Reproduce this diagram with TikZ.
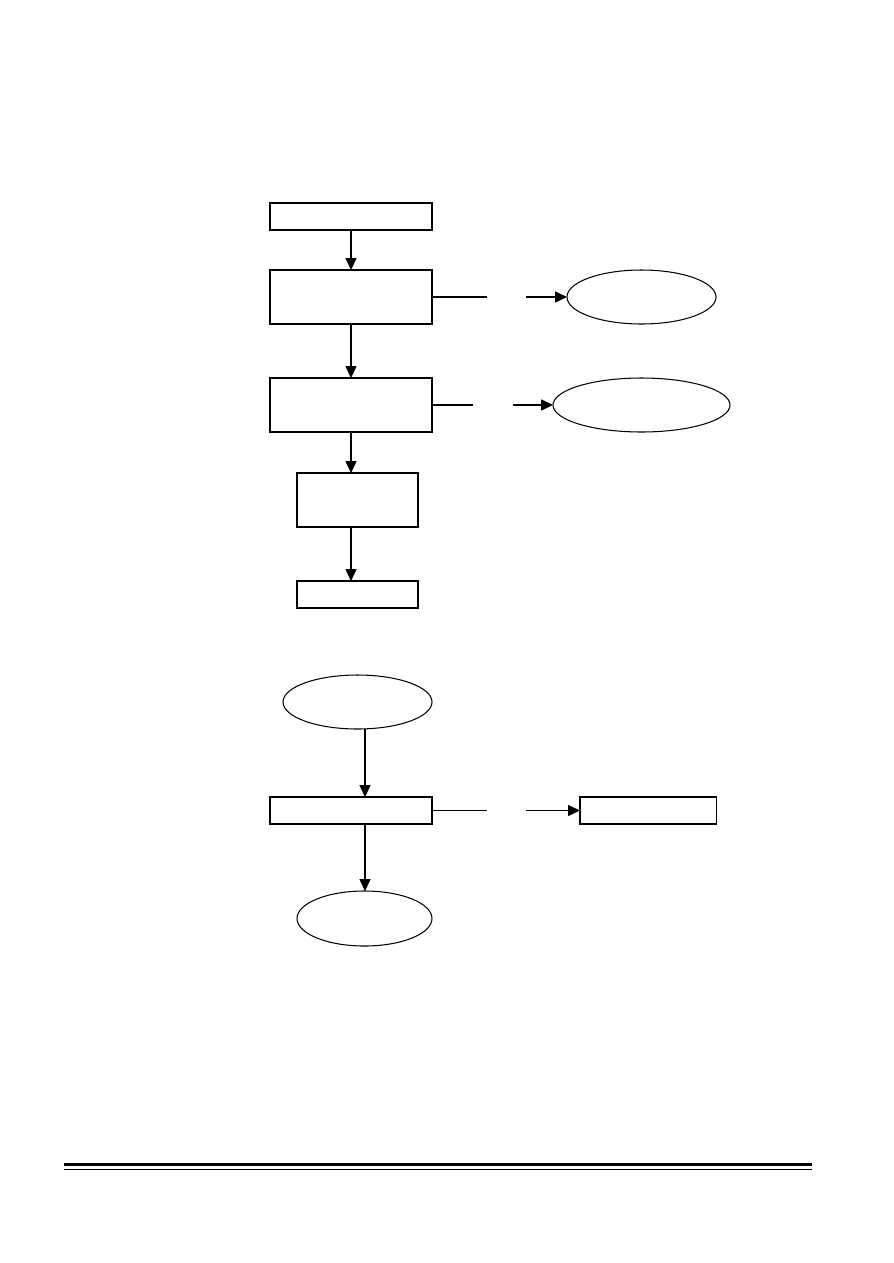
\documentclass[tikz,border=0pt]{standalone}
\usepackage{tikz}
\usetikzlibrary{arrows.meta,shapes.geometric}

\begin{document}
\begin{tikzpicture}[
    >={Triangle[length=2.8mm,width=2.6mm]},
    x=0.2352mm, y=-0.2352mm,
    line width=0.7pt,
    pbox/.style={draw,rectangle,minimum width=38.1mm,minimum height=12.7mm,
                 inner sep=0pt,outer sep=0pt},
    sbox/.style={pbox,minimum height=6.35mm},
    nbox/.style={pbox,minimum width=28.46mm},
    oval/.style={draw,ellipse,minimum width=35.05mm,minimum height=12.7mm,
                 inner sep=0pt,outer sep=0pt},
    flow/.style={->},
  ]
  \useasboundingbox (0,0) rectangle (893,1263);

  % --- upper chain ---
  \node[sbox] (b1) at (351,216.5) {};
  \node[pbox] (b2) at (351,297)   {};
  \node[pbox] (b3) at (351,405)   {};
  \node[nbox] (b4) at (357.5,500) {};
  \node[nbox,minimum height=6.35mm] (b5) at (357.5,594.5) {};

  % --- side ovals ---
  \node[oval] (e1) at (641.5,297) {};
  \node[oval,minimum width=41.63mm] (e2) at (641.5,405) {};

  % --- lower chain ---
  \node[oval] (e3) at (357.5,702) {};
  \node[sbox] (b6) at (351,810.5) {};
  \node[sbox,minimum width=32mm] (b7) at (648,810.5) {};
  \node[oval,minimum width=31.75mm,minimum height=12.94mm] (e4) at (364.5,918.5) {};

  % gap points on the side connectors
  \coordinate (g1a) at (487,297);
  \coordinate (g1b) at (526,297);
  \coordinate (g2a) at (473,405);
  \coordinate (g2b) at (513,405);
  \coordinate (g3a) at (487,810.5);
  \coordinate (g3b) at (526,810.5);

  % --- downward edges ---
  \draw[flow] (b1) -- (b2);
  \draw[flow] (b2) -- (b3);
  \draw[flow] (b3.south) -- (b3.south |- b4.north);
  \draw[flow] (b3.south |- b4.south) -- (b3.south |- b5.north);
  \draw[flow] (e3.south -| b6.south) ++(14,0) coordinate (d1) -- (d1 |- b6.north);
  \draw[flow] (d1 |- b6.south) -- (d1 |- e4.north);

  % --- side edges (broken in the middle) ---
  \draw (b2.east) -- (g1a);
  \draw[flow] (g1b) -- (e1.west);
  \draw (b3.east) -- (g2a);
  \draw[flow] (g2b) -- (e2.west);
  \draw (b6.east) -- (g3a);
  \draw[flow] (g3b) -- (b7.west);

  % --- footer rule ---
  \coordinate (r1) at (64,1164.5);
  \coordinate (r2) at (812,1164.5);
  \draw[line width=2.2pt] (r1) -- (r2);
  \draw[line width=0.8pt] ([yshift=-3.2pt]r1) -- ([yshift=-3.2pt]r2);

\end{tikzpicture}
\end{document}
